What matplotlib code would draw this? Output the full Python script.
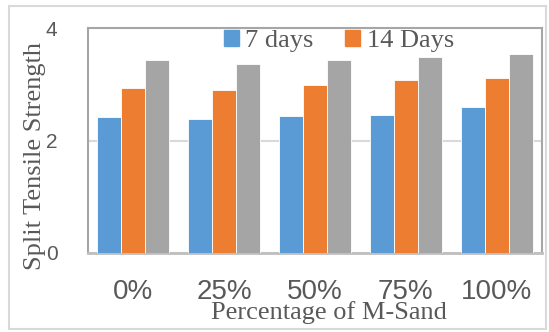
import matplotlib.pyplot as plt
from matplotlib.patches import Patch, Rectangle
import numpy as np

# Split tensile strength for each M-Sand replacement level
categories = ["0%", "25%", "50%", "75%", "100%"]
days_7 = [2.41, 2.38, 2.43, 2.46, 2.60]
days_14 = [2.93, 2.90, 2.98, 3.08, 3.12]
days_28 = [3.44, 3.36, 3.44, 3.48, 3.54]
yticks = [0, 2, 4]

colors = ["#5B9BD5", "#ED7D31", "#A5A5A5"]
serif = "Liberation Serif"
sans = "Liberation Sans"
text_color = "#595959"

W, H = 549, 332
fig = plt.figure(figsize=(W / 100, H / 100), dpi=100)

# axes box in pixels: left 88, right 542, top 28, bottom 253
ax = fig.add_axes([88 / W, 1 - 253 / H, 454 / W, 225 / H])

x = np.arange(len(categories))
width = 0.265
series = [days_7, days_14, days_28]
for i, vals in enumerate(series):
    ax.bar(x + (i - 1) * width, vals, width, color=colors[i],
           edgecolor="white", linewidth=0.6, zorder=3)

ax.set_xlim(-0.5, len(categories) - 0.5)
ax.set_ylim(0, 4)
ax.set_yticks(yticks)
ax.set_yticklabels([str(t) for t in yticks], fontsize=15, family=sans,
                   color=text_color)
ax.set_xticks(x)
ax.set_xticklabels(categories, fontsize=20, family=sans, color=text_color)
ax.tick_params(axis="y", length=0, pad=22)
ax.tick_params(axis="x", length=0, pad=19)
ax.yaxis.grid(True, color="#D9D9D9", linewidth=1.5, zorder=0)
ax.set_axisbelow(True)

for side in ["left", "top", "right"]:
    ax.spines[side].set_color("#A6A6A6")
    ax.spines[side].set_linewidth(1.5)
ax.spines["bottom"].set_color("#BFBFBF")
ax.spines["bottom"].set_linewidth(2)

handles = [Patch(color=colors[0], label="7 days"),
           Patch(color=colors[1], label="14 Days")]
leg = ax.legend(handles=handles, loc="center", bbox_to_anchor=(0.553, 0.942),
                ncol=2, frameon=False, handlelength=0.55, handleheight=0.55,
                handletextpad=0.25, columnspacing=1.2,
                prop={"family": serif, "size": 19})
for t in leg.get_texts():
    t.set_color(text_color)

fig.text(35 / W, 1 - 156 / H, "Split Tensile Strength", rotation=90,
         ha="center", va="center", fontsize=19, family=serif, color=text_color)
fig.text(329 / W, 1 - 313 / H, "Percentage of M-Sand", ha="center",
         va="center", fontsize=19, family=serif, color=text_color)

# light chart border
fig.patches.append(Rectangle((9 / W, 1 - 329 / H), 537 / W, 323 / H,
                             transform=fig.transFigure, fill=False,
                             edgecolor="#D9D9D9", linewidth=1.5))

fig.savefig("out.png", dpi=100)
